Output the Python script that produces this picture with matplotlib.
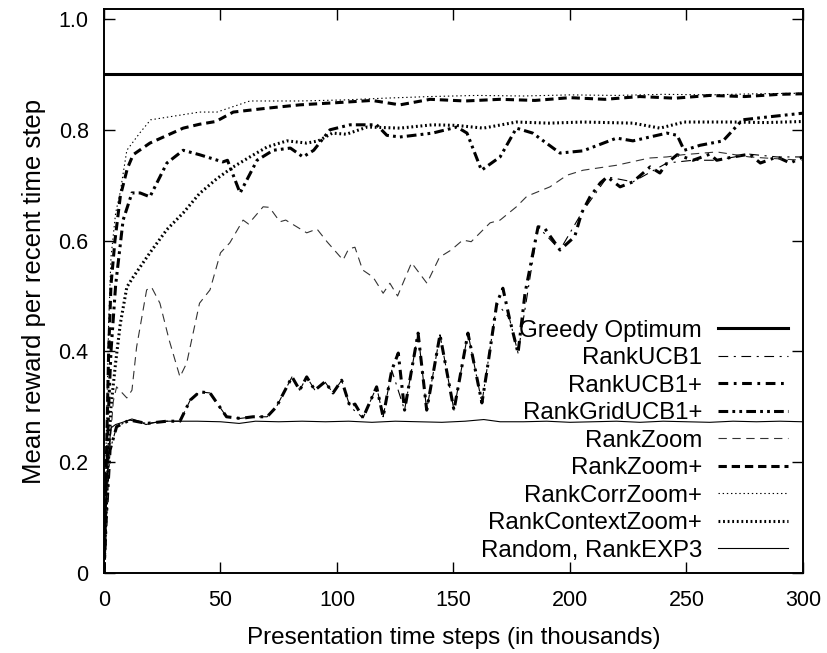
import matplotlib.pyplot as plt
import numpy as np

plt.rcParams['font.family'] = ['Liberation Sans', 'DejaVu Sans']
plt.rcParams['lines.scale_dashes'] = False

# Greedy optimum (constant)
greedy_x = [0, 300]
greedy_y = [0.9, 0.9]

# Random, RankEXP3
rand_x = [0, 1, 2, 3, 5, 8, 12, 15, 18, 22, 26, 30, 40, 50, 58, 65, 75, 85, 95, 105, 115,
          125, 135, 145, 155, 163, 170, 180, 190, 200, 210, 220, 230, 240, 250, 260, 270, 280, 290, 300]
rand_y = [0.0, 0.14, 0.22, 0.262, 0.268, 0.272, 0.278, 0.274, 0.268, 0.272, 0.274, 0.274, 0.274, 0.273,
          0.270, 0.274, 0.273, 0.274, 0.273, 0.274, 0.272, 0.274, 0.273, 0.272, 0.274, 0.277, 0.273,
          0.273, 0.274, 0.272, 0.273, 0.274, 0.272, 0.274, 0.273, 0.272, 0.274, 0.273, 0.274, 0.273]

# RankUCB1+ (spiky curve)
ucbp_x = [0, 1, 2.6, 5.4, 11, 18.3, 27, 32.6, 37, 41, 45.5, 52.6, 58.4, 64, 70, 74, 80.7, 84, 87,
          90.5, 94.8, 98.3, 102, 105.6, 107.7, 111.2, 112.6, 117, 119.8, 123.5, 126.3, 129, 134.8,
          138.5, 144.2, 150.2, 156.2, 162.2, 164.4, 168.6, 171.2, 174, 177.7, 180.7, 186.3, 189,
          195.7, 202, 205, 208.6, 213, 216, 221.5, 227, 234.4, 238.6, 241.6, 246, 252.8, 260, 263,
          270, 277, 281.7, 288.8, 294.5, 300]
ucbp_y = [0.0, 0.1, 0.222, 0.264, 0.276, 0.27, 0.274, 0.274, 0.312, 0.327, 0.325, 0.282, 0.279,
          0.282, 0.282, 0.3, 0.354, 0.33, 0.354, 0.33, 0.345, 0.325, 0.348, 0.3, 0.305, 0.28, 0.294,
          0.336, 0.282, 0.366, 0.397, 0.294, 0.433, 0.294, 0.43, 0.294, 0.433, 0.307, 0.366, 0.487,
          0.514, 0.46, 0.397, 0.505, 0.625, 0.623, 0.583, 0.607, 0.65, 0.679, 0.704, 0.715, 0.697,
          0.706, 0.733, 0.722, 0.74, 0.755, 0.745, 0.756, 0.745, 0.751, 0.756, 0.74, 0.751, 0.74, 0.751]

# RankUCB1 (lies under RankUCB1+ in the picture)
ucb_x = [0, 1, 2.6, 5.4, 11, 18.3, 27, 32.6, 37, 41, 45.5, 52.6, 58.4, 64, 70, 74, 80.7, 84, 87,
         90.5, 94.8, 98.3, 102, 105.6, 111.2, 117, 119.8, 123.5, 129, 134.8, 138.5, 144.2, 150.2,
         156.2, 162.2, 168.6, 174, 177.7, 186.3, 195.7, 205, 216, 227, 241.6, 252.8, 263, 277,
         288.8, 300]
ucb_y = [0.0, 0.1, 0.222, 0.264, 0.276, 0.27, 0.274, 0.274, 0.312, 0.327, 0.325, 0.282, 0.279,
         0.282, 0.282, 0.3, 0.354, 0.33, 0.354, 0.33, 0.345, 0.325, 0.348, 0.3, 0.28, 0.336, 0.282,
         0.366, 0.294, 0.433, 0.294, 0.43, 0.294, 0.433, 0.307, 0.487, 0.46, 0.397, 0.625, 0.583,
         0.65, 0.715, 0.706, 0.74, 0.745, 0.745, 0.756, 0.751, 0.751]

# RankGridUCB1+
grid_x = [0, 1, 2, 3, 5, 8.2, 12, 15.5, 19.7, 27, 34, 41, 51, 53, 58.4, 65.7, 72.6, 80, 85.4,
          90, 97, 105.6, 117, 121.4, 127, 141, 151.5, 155.8, 162, 170, 177, 184, 195.7, 205.6,
          220, 227, 241.6, 246, 249, 255.8, 265.7, 274, 284.5, 300]
grid_y = [0.0, 0.15, 0.3, 0.4, 0.52, 0.637, 0.686, 0.686, 0.679, 0.74, 0.763, 0.755, 0.742,
          0.745, 0.686, 0.745, 0.763, 0.767, 0.751, 0.763, 0.8, 0.809, 0.809, 0.79, 0.787, 0.794,
          0.805, 0.794, 0.727, 0.751, 0.803, 0.794, 0.758, 0.762, 0.785, 0.78, 0.794, 0.79, 0.763,
          0.772, 0.78, 0.818, 0.823, 0.83]

# RankZoom
zoom_x = [0, 2, 4, 5.4, 9.8, 12, 14, 18.3, 20.4, 24, 28, 32.6, 35.5, 41, 45.5, 50, 54, 59.7, 62,
          68.3, 71, 75.5, 78, 87, 91.4, 95.7, 102.6, 105, 107.7, 111, 115.5, 119.8, 122.7, 126,
          132, 138.6, 144, 149, 154, 157.6, 165.7, 170, 177, 181.5, 191.4, 198.7, 205.6, 220,
          234, 241.6, 248.5, 263, 277, 284, 300]
zoom_y = [0.0, 0.2, 0.31, 0.336, 0.316, 0.33, 0.408, 0.511, 0.516, 0.487, 0.42, 0.354, 0.379,
          0.487, 0.511, 0.578, 0.596, 0.637, 0.63, 0.661, 0.66, 0.634, 0.637, 0.614, 0.621, 0.598,
          0.565, 0.585, 0.588, 0.547, 0.534, 0.505, 0.523, 0.5, 0.56, 0.523, 0.57, 0.583, 0.601,
          0.598, 0.632, 0.637, 0.661, 0.68, 0.697, 0.718, 0.727, 0.736, 0.749, 0.751, 0.755,
          0.76, 0.751, 0.749, 0.745]

# RankZoom+
zoomp_x = [0, 1, 2, 3, 4.7, 7, 10, 12.5, 19.7, 34, 41, 48, 55.5, 70, 84, 104, 115, 127, 140,
           155, 170, 185, 200, 215, 230, 245, 260, 275, 290, 300]
zoomp_y = [0.0, 0.2, 0.4, 0.52, 0.6, 0.68, 0.73, 0.755, 0.776, 0.803, 0.81, 0.815, 0.832,
           0.839, 0.845, 0.85, 0.853, 0.845, 0.855, 0.852, 0.855, 0.853, 0.858, 0.855, 0.86,
           0.857, 0.862, 0.86, 0.864, 0.865]

# RankCorrZoom+
corr_x = [0, 1, 2, 3, 5, 6.9, 9.8, 15.5, 20, 41, 48.5, 62.6, 84, 104, 120, 140, 160, 180, 200,
          220, 240, 260, 280, 300]
corr_y = [0.0, 0.25, 0.45, 0.57, 0.65, 0.686, 0.763, 0.795, 0.818, 0.832, 0.832, 0.852, 0.852,
          0.854, 0.857, 0.86, 0.862, 0.861, 0.863, 0.862, 0.864, 0.863, 0.865, 0.866]

# RankContextZoom+
ctx_x = [0, 1, 2, 3, 5, 7, 9.8, 12.5, 19.7, 27, 34, 41, 48.5, 55.5, 62.6, 70, 78.5, 87, 92, 98,
         104, 113, 127, 141, 151, 162.8, 177, 191, 205.6, 227, 238.6, 249, 270, 284, 300]
ctx_y = [0.0, 0.12, 0.22, 0.3, 0.38, 0.45, 0.516, 0.534, 0.578, 0.62, 0.65, 0.685, 0.712,
         0.733, 0.751, 0.769, 0.78, 0.776, 0.78, 0.794, 0.792, 0.805, 0.803, 0.809, 0.808, 0.803,
         0.814, 0.812, 0.814, 0.812, 0.803, 0.814, 0.814, 0.813, 0.815]

xticks = [0, 50, 100, 150, 200, 250, 300]
yticks = [0, 0.2, 0.4, 0.6, 0.8, 1.0]
yticklabels = ['0', '0.2', '0.4', '0.6', '0.8', '1.0']

fig = plt.figure(figsize=(8.28, 6.53), dpi=100)
ax = fig.add_axes([0.1256, 0.1225, 0.8442, 0.8637])

ax.plot(greedy_x, greedy_y, c='black', lw=2.2, ls='-', label='Greedy Optimum')
ax.plot(ucb_x, ucb_y, c='black', lw=0.8, ls=(0, (7, 4, 1.5, 4)), label='RankUCB1')
ax.plot(ucbp_x, ucbp_y, c='black', lw=2.2, ls=(0, (7, 4, 2, 4)), label='RankUCB1+')
ax.plot(grid_x, grid_y, c='black', lw=2.2, ls=(0, (7, 3, 2, 3, 2, 3)), label='RankGridUCB1+')
ax.plot(zoom_x, zoom_y, c='#333333', lw=0.8, ls=(0, (6, 4)), label='RankZoom')
ax.plot(zoomp_x, zoomp_y, c='black', lw=2.2, ls=(0, (6, 3.5)), label='RankZoom+')
ax.plot(corr_x, corr_y, c='black', lw=0.8, ls=(0, (1, 2)), label='RankCorrZoom+')
ax.plot(ctx_x, ctx_y, c='black', lw=2.2, ls=(0, (1.3, 2)), label='RankContextZoom+')
ax.plot(rand_x, rand_y, c='black', lw=0.8, ls='-', label='Random, RankEXP3')

ax.set_xlim(0, 300)
ax.set_ylim(0, 1.018)
ax.set_xticks(xticks)
ax.set_yticks(yticks)
ax.set_yticklabels(yticklabels)
ax.tick_params(direction='in', length=8, width=1, labelsize=15.5, top=True, right=True)
ax.tick_params(axis='y', pad=11)
ax.tick_params(axis='x', pad=12)
for s in ax.spines.values():
    s.set_linewidth(1.4)

ax.set_xlabel('Presentation time steps (in thousands)', fontsize=17.5, labelpad=12)
ax.set_ylabel('Mean reward per recent time step', fontsize=18.5, labelpad=9)

leg = ax.legend(loc='lower right', bbox_to_anchor=(0.9785, 0.02), markerfirst=False,
                frameon=False, fontsize=17.3, handlelength=2.9, handletextpad=0.67,
                labelspacing=0.23, borderpad=0, borderaxespad=0)

fig.savefig('out.png', dpi=100)
